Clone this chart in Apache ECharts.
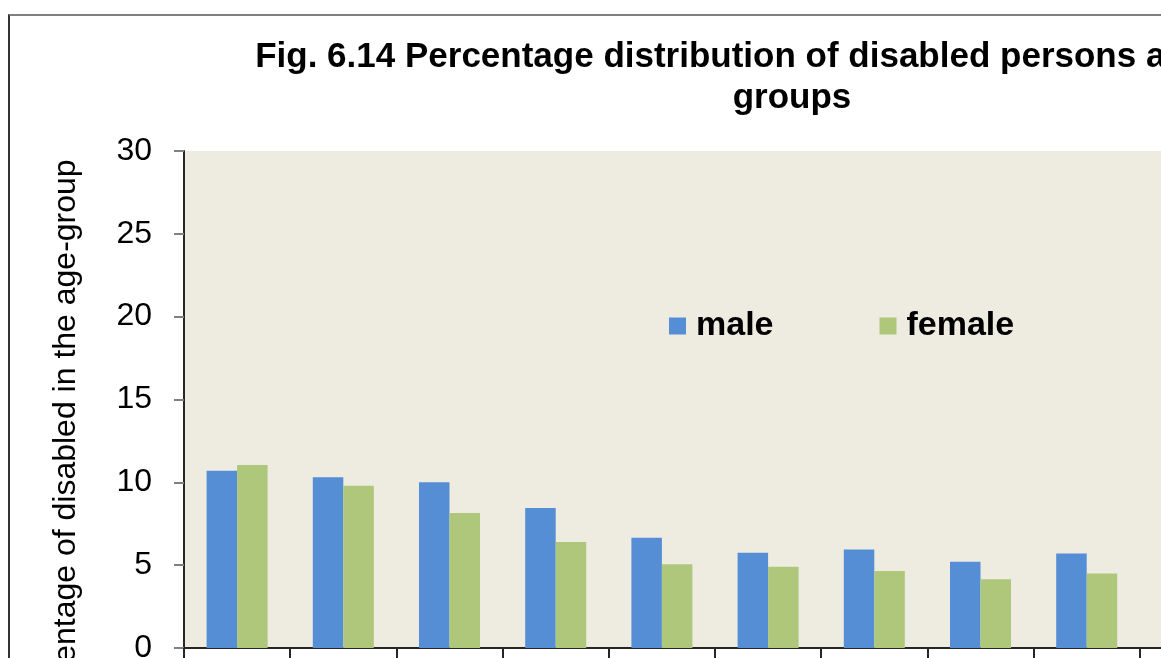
<!DOCTYPE html>
<html>
<head>
<meta charset="utf-8">
<script src="https://cdn.jsdelivr.net/npm/echarts@6/dist/echarts.min.js"></script>
<style>
  html, body { margin: 0; padding: 0; overflow: hidden; background: #fff; }
  #chart { position: absolute; left: 0; top: 0; width: 1584px; height: 658px; }
  #frame { position: absolute; left: 8px; top: 14px; width: 2000px; height: 2000px;
           border-top: 2px solid #7f7f7f; border-left: 2px solid #333; pointer-events: none; }
</style>
</head>
<body>
<div id="chart"></div>
<div id="frame"></div>
<script>
// age groups (labels fall below the visible area)
var ageGroups = ['0-4', '5-9', '10-14', '15-19', '20-24', '25-29', '30-34', '35-39', '40-44', '45-49'];
// percentage of disabled in each age group
var maleValues = [10.7, 10.3, 10.0, 8.45, 6.65, 5.75, 5.95, 5.2, 5.7, null];
var femaleValues = [11.05, 9.8, 8.15, 6.4, 5.05, 4.9, 4.65, 4.15, 4.5, null];
var yTicks = { min: 0, max: 30, step: 5 };

var FONT = 'Liberation Sans, Arial, sans-serif';
var myChart = echarts.init(document.getElementById('chart'));

var option = {
    animation: false,
    backgroundColor: '#fff',
    title: {
        text: 'Fig. 6.14 Percentage distribution of disabled persons across age\ngroups',
        left: 'center',
        top: 32,
        textStyle: {
            fontFamily: FONT,
            fontSize: 35,
            fontWeight: 'bold',
            color: '#000',
            lineHeight: 41
        }
    },
    legend: {
        data: ['male', 'female'],
        left: 669,
        top: 309,
        padding: 0,
        icon: 'rect',
        itemWidth: 17,
        itemHeight: 17,
        itemGap: 106,
        textStyle: {
            fontFamily: FONT,
            fontSize: 34,
            fontWeight: 'bold',
            color: '#000',
            lineHeight: 34,
            padding: [0, 0, 0, 5]
        }
    },
    grid: {
        left: 184,
        top: 151,
        right: 338,
        bottom: 10,
        containLabel: false,
        outerBoundsMode: 'none',
        show: true,
        backgroundColor: '#EEECE1',
        borderWidth: 0
    },
    xAxis: {
        type: 'category',
        data: ageGroups,
        axisLine: { lineStyle: { color: '#262626', width: 2 } },
        axisTick: { show: true, interval: 0, length: 10, lineStyle: { color: '#262626', width: 2 } },
        axisLabel: { interval: 0, fontFamily: FONT, fontSize: 32, color: '#000', margin: 14 }
    },
    yAxis: {
        type: 'value',
        min: yTicks.min,
        max: yTicks.max,
        interval: yTicks.step,
        splitLine: { show: false },
        axisLine: { show: true, lineStyle: { color: '#262626', width: 2 } },
        axisTick: { show: true, length: 10, lineStyle: { color: '#808080', width: 2 } },
        axisLabel: { fontFamily: FONT, fontSize: 32, color: '#000', margin: 32 }
    },
    graphic: [{
        type: 'text',
        x: 66,
        y: 444,
        rotation: Math.PI / 2,
        style: {
            text: 'Percentage of disabled in the age-group',
            font: '32px ' + FONT,
            fill: '#000',
            textAlign: 'center',
            textVerticalAlign: 'middle'
        }
    }],
    series: [
        {
            name: 'male',
            type: 'bar',
            data: maleValues,
            barWidth: 30.5,
            barGap: '0%',
            itemStyle: { color: '#558ED5' }
        },
        {
            name: 'female',
            type: 'bar',
            data: femaleValues,
            barWidth: 30.5,
            barGap: '0%',
            itemStyle: { color: '#AEC77A' }
        }
    ]
};

myChart.setOption(option);
</script>
</body>
</html>
